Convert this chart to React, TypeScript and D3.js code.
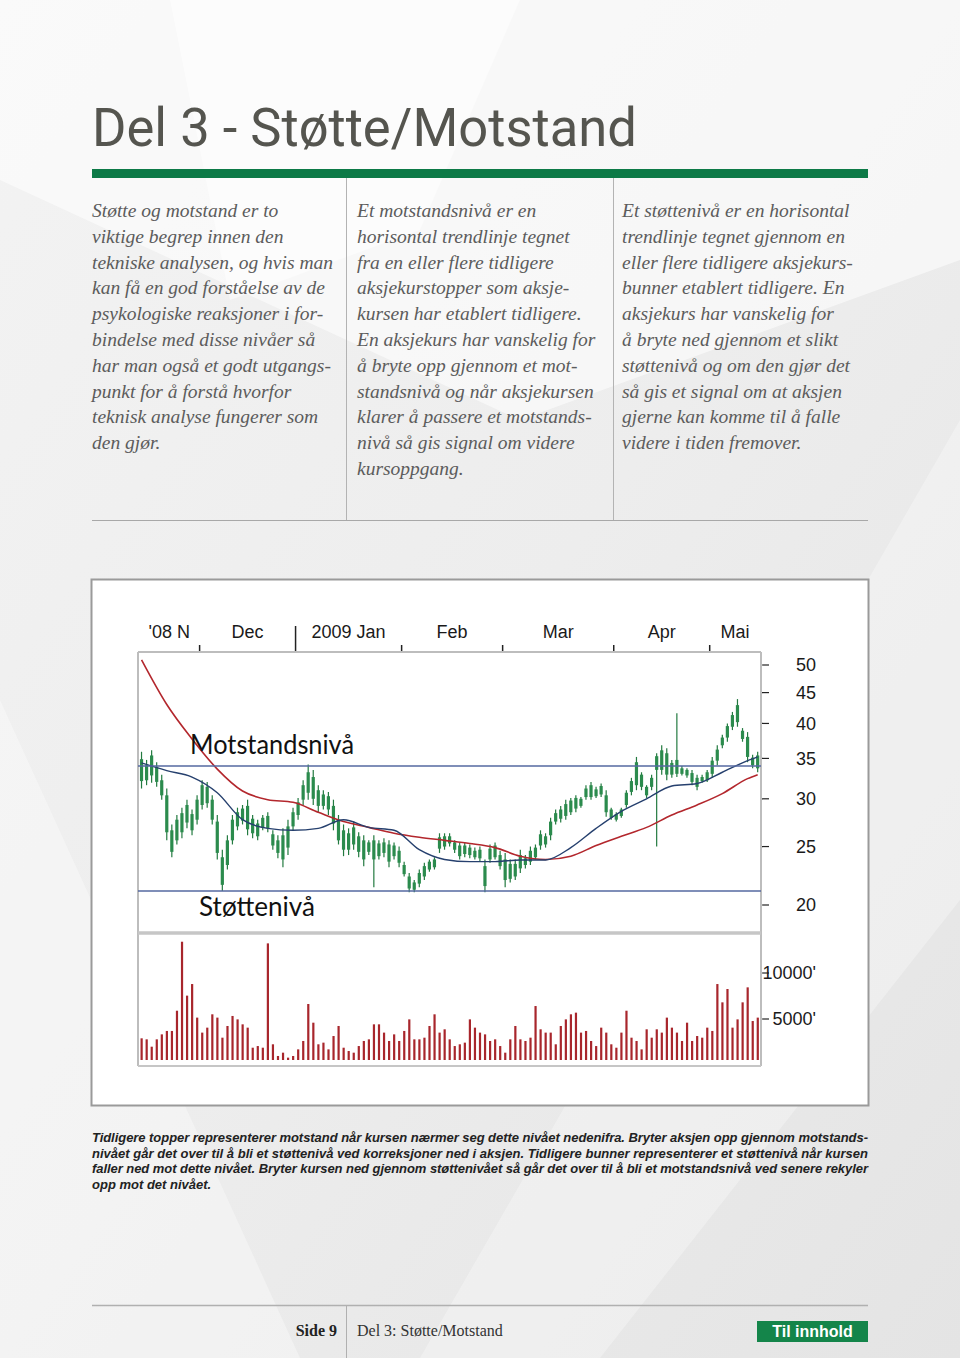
import React from 'react';
import * as d3 from 'd3';

// ---------- DATA ----------
const monthLabels = ["'08 N", 'Dec', '2009 Jan', 'Feb', 'Mar', 'Apr', 'Mai'];
const monthStart = [0, 12, 31, 52, 72, 94, 113]; // bar index of first trading day
const barCount = 123;
const priceTicks = [20, 25, 30, 35, 40, 45, 50];
const volumeTicks = [5000, 10000];
const volumeTickLabels = ["5000'", "10000'"];

const high = [
  35.9, 34.8, 36.1, 34.5, 32.9, 31.2, 27.2, 28.2, 29.0, 29.9,
  28.8, 30.4, 32.2, 32.0, 30.4, 28.2, 24.7, 26.1, 28.2, 29.0,
  29.3, 29.9, 28.2, 27.7, 28.2, 28.5, 26.6, 26.1, 26.8, 27.7,
  29.0, 30.1, 32.2, 34.2, 33.5, 31.6, 31.0, 30.8, 29.9, 28.2,
  27.2, 26.8, 27.5, 26.4, 26.1, 25.6, 26.1, 25.6, 25.8, 25.6,
  25.4, 25.0, 23.6, 22.6, 22.0, 22.9, 23.5, 23.8, 24.0, 26.3,
  26.3, 26.3, 25.6, 25.4, 25.4, 25.2, 24.9, 25.0, 23.8, 25.2,
  25.4, 24.6, 24.4, 23.8, 23.8, 24.7, 24.2, 25.0, 25.2, 26.6,
  26.3, 27.9, 28.8, 29.2, 29.9, 30.1, 30.4, 30.2, 31.6, 32.0,
  31.4, 31.8, 31.0, 29.0, 28.5, 29.0, 31.0, 32.5, 35.2, 33.2,
  31.6, 32.9, 35.7, 36.8, 36.4, 34.8, 41.6, 34.0, 33.7, 33.5,
  32.9, 32.9, 33.5, 35.2, 36.8, 38.3, 40.0, 41.8, 43.9, 39.3,
  38.7, 35.5, 35.9,
];
const low = [
  31.2, 31.6, 31.9, 31.4, 29.9, 25.6, 24.0, 25.2, 25.8, 26.8,
  26.1, 27.2, 28.8, 29.0, 27.2, 23.8, 21.1, 22.9, 25.2, 26.6,
  27.2, 26.1, 25.8, 25.6, 26.6, 26.4, 24.7, 23.9, 23.1, 24.2,
  26.6, 27.7, 29.3, 29.9, 29.3, 28.5, 28.8, 28.2, 26.6, 25.2,
  24.1, 24.2, 24.7, 24.0, 23.2, 24.2, 21.4, 23.8, 24.0, 23.1,
  23.8, 23.1, 22.3, 21.0, 21.0, 21.4, 22.0, 22.7, 22.9, 24.4,
  24.7, 25.0, 24.4, 23.8, 24.0, 23.9, 23.8, 23.6, 21.0, 23.5,
  23.8, 22.9, 21.4, 21.8, 22.0, 22.6, 23.0, 23.3, 23.8, 24.7,
  24.9, 25.6, 27.2, 27.4, 27.7, 28.2, 28.5, 29.0, 29.9, 29.9,
  30.1, 30.2, 28.0, 27.7, 27.5, 27.9, 29.0, 30.4, 31.0, 31.0,
  30.1, 31.0, 25.0, 32.9, 32.2, 32.5, 32.6, 32.8, 32.5, 31.6,
  31.0, 31.9, 32.0, 32.5, 34.1, 36.4, 37.3, 39.0, 39.5, 37.3,
  34.5, 33.7, 33.2,
];
const open = [
  32.1, 34.1, 32.8, 33.9, 32.2, 30.4, 26.6, 25.6, 26.4, 27.4,
  28.3, 27.7, 29.3, 31.4, 29.9, 27.5, 24.0, 23.3, 25.6, 27.0,
  28.9, 26.7, 27.8, 26.0, 26.9, 28.1, 26.2, 25.6, 23.8, 24.9,
  27.0, 28.2, 29.9, 30.7, 32.6, 31.0, 29.2, 30.3, 29.2, 27.7,
  24.7, 26.3, 25.2, 26.0, 23.8, 24.5, 25.6, 24.1, 25.4, 25.2,
  24.1, 24.6, 23.3, 22.3, 21.2, 21.7, 22.3, 22.9, 23.1, 24.8,
  26.0, 25.3, 25.4, 25.1, 24.3, 24.9, 24.0, 24.7, 23.2, 23.8,
  24.0, 24.2, 23.8, 22.1, 22.3, 23.0, 23.9, 23.6, 24.0, 25.1,
  26.0, 26.1, 27.5, 28.8, 28.1, 28.5, 30.1, 29.2, 30.2, 31.6,
  30.3, 31.5, 30.4, 27.9, 28.3, 28.1, 29.3, 30.8, 31.6, 32.9,
  31.4, 31.4, 33.5, 33.5, 35.7, 32.9, 33.0, 33.7, 32.8, 33.1,
  32.5, 32.1, 32.2, 33.0, 34.7, 36.8, 37.9, 39.5, 40.2, 38.9,
  38.0, 35.1, 33.7,
];
const close = [
  34.9, 32.2, 35.4, 32.0, 30.4, 26.4, 24.5, 27.7, 28.4, 29.3,
  26.6, 29.9, 31.6, 29.5, 27.7, 24.4, 21.6, 25.6, 27.7, 28.5,
  27.6, 29.2, 26.3, 27.3, 27.9, 26.8, 25.1, 24.4, 26.1, 27.0,
  28.5, 29.6, 31.6, 33.2, 30.0, 29.2, 30.5, 28.8, 27.3, 25.6,
  26.6, 24.7, 26.9, 24.5, 25.6, 25.4, 23.8, 25.3, 24.4, 23.6,
  25.1, 23.5, 22.5, 21.3, 21.8, 22.6, 23.2, 23.6, 23.8, 25.9,
  25.0, 26.0, 24.7, 24.1, 25.1, 24.2, 24.6, 23.9, 21.5, 24.8,
  25.1, 23.2, 22.0, 23.4, 23.4, 24.2, 23.3, 24.6, 24.9, 26.2,
  25.2, 27.5, 28.4, 27.8, 29.4, 29.8, 28.9, 30.0, 31.2, 30.2,
  31.1, 30.5, 28.5, 28.8, 27.7, 28.8, 30.7, 32.1, 34.5, 31.4,
  30.4, 32.5, 35.3, 36.1, 32.9, 34.4, 34.8, 33.0, 33.5, 32.0,
  31.4, 32.6, 33.2, 34.7, 36.2, 37.9, 39.6, 41.3, 42.9, 37.7,
  35.2, 34.1, 35.4,
];
const volume = [
  2900, 2790, 1990, 2790, 3330, 3700, 3700, 5900, 13400, 7540,
  8800, 5150, 3520, 4060, 5510, 5150, 2970, 4240, 5330, 4960,
  4420, 4060, 1880, 2060, 1880, 13220, 2250, 980, 1340, 800,
  980, 1700, 2610, 6630, 4600, 2250, 2430, 1700, 3150, 4240,
  1880, 1520, 1340, 2060, 2610, 2790, 4420, 4420, 3520, 2610,
  3330, 2610, 3700, 4960, 2790, 2790, 2970, 4240, 5510, 3520,
  3880, 2790, 2060, 2250, 2430, 4960, 4060, 3520, 3330, 2610,
  2790, 2060, 1340, 2790, 4240, 2790, 2610, 2970, 6410, 3880,
  3520, 3520, 2250, 4240, 4960, 5510, 5690, 3520, 3700, 2610,
  2060, 4060, 3520, 2250, 1880, 3520, 5900, 2970, 2610, 1700,
  3880, 2970, 3880, 3520, 5150, 4060, 3520, 2610, 4600, 2610,
  3150, 2970, 4060, 3700, 8800, 6810, 8260, 4060, 4960, 6810,
  8440, 4780, 5150,
];
const maIndex = [0, 5, 10, 15, 20, 25, 30, 35, 40, 45, 50, 55, 60, 65, 70, 75, 80, 85, 90, 95, 100, 105, 110, 115, 120, 122];
const maShort = [34.4, 33.4, 32.6, 30.7, 27.7, 26.8, 26.6, 26.8, 27.7, 26.9, 26.6, 24.7, 23.8, 23.6, 23.6, 23.75, 23.75, 24.9, 26.8, 28.6, 30.0, 31.5, 31.8, 33.2, 34.7, 35.2];
const maLong = [51.0, 43.0, 37.7, 33.6, 30.9, 29.9, 29.6, 28.5, 27.5, 26.9, 26.3, 25.9, 25.6, 25.3, 24.9, 24.1, 23.8, 24.1, 25.1, 26.0, 26.9, 28.2, 29.3, 30.6, 32.4, 32.9];
const resistanceLevel = 34.0;
const supportLevel = 21.1;

const col1 = [
  'Støtte og motstand er to',
  'viktige begrep innen den',
  'tekniske analysen, og hvis man',
  'kan få en god forståelse av de',
  'psykologiske reaksjoner i for-',
  'bindelse med disse nivåer så',
  'har man også et godt utgangs-',
  'punkt for å forstå hvorfor',
  'teknisk analyse fungerer som',
  'den gjør.',
];
const col2 = [
  'Et motstandsnivå er en',
  'horisontal trendlinje tegnet',
  'fra en eller flere tidligere',
  'aksjekurstopper som aksje-',
  'kursen har etablert tidligere.',
  'En aksjekurs har vanskelig for',
  'å bryte opp gjennom et mot-',
  'standsnivå og når aksjekursen',
  'klarer å passere et motstands-',
  'nivå så gis signal om videre',
  'kursoppgang.',
];
const col3 = [
  'Et støttenivå er en horisontal',
  'trendlinje tegnet gjennom en',
  'eller flere tidligere aksjekurs-',
  'bunner etablert tidligere. En',
  'aksjekurs har vanskelig for',
  'å bryte ned gjennom et slikt',
  'støttenivå og om den gjør det',
  'så gis et signal om at aksjen',
  'gjerne kan komme til å falle',
  'videre i tiden fremover.',
];
const caption = [
  'Tidligere topper representerer motstand når kursen nærmer seg dette nivået nedenifra. Bryter aksjen opp gjennom motstands-',
  'nivået går det over til å bli et støttenivå ved korreksjoner ned i aksjen. Tidligere bunner representerer et støttenivå når kursen',
  'faller ned mot dette nivået. Bryter kursen ned gjennom støttenivået så går det over til å bli et motstandsnivå ved senere rekyler',
  'opp mot det nivået.',
];

// ---------- LAYOUT ----------
const PL = 138, PR = 761, PT = 652, PB = 932, VB = 1066;

export default function App() {
  const x = d3.scaleLinear().domain([0, barCount]).range([139, 760.2]);
  const yP = d3.scaleLog().domain([20, 50]).range([905, 665]);
  const yV = d3.scaleLinear().domain([0, 10000]).range([1065, 973]);

  const maPts = (vals: number[]) => maIndex.map((i, k) => ({ i, v: vals[k] }));
  const line = d3
    .line<{ i: number; v: number }>()
    .x((d) => x(d.i + 0.5))
    .y((d) => yP(d.v))
    .curve(d3.curveMonotoneX);

  const bars = d3.range(barCount);
  const monthEnds = [...monthStart.slice(1), barCount];

  const serif = "'Liberation Serif', 'Times New Roman', serif";
  const sans = "'Liberation Sans', Arial, sans-serif";

  return (
    <svg width={960} height={1358} style={{ position: 'absolute', left: 0, top: 0 }}>
      <defs>
        <linearGradient id="bg" x1="0" y1="0" x2="1" y2="1">
          <stop offset="0" stopColor="#f3f3f3" />
          <stop offset="0.5" stopColor="#ededed" />
          <stop offset="1" stopColor="#e4e4e4" />
        </linearGradient>
        <clipPath id="pclip">
          <rect x={PL} y={PT} width={PR - PL} height={PB - PT - 1} />
        </clipPath>
      </defs>
      <rect x={0} y={0} width={960} height={1358} fill="url(#bg)" />
      <polygon points="0,0 960,0 960,260 520,420 0,180" fill="#ffffff" opacity={0.55} />
      <polygon points="170,0 520,0 420,230 230,300" fill="#ffffff" opacity={0.5} />
      <polygon points="960,420 960,900 600,1358 420,1358" fill="#ffffff" opacity={0.3} />
      <polygon points="0,700 300,1358 0,1358" fill="#ffffff" opacity={0.35} />

      {/* Title */}
      <text x={92} y={146} fontFamily="Roboto, sans-serif" fontSize={53} fill="#55554f" textLength={545} lengthAdjust="spacingAndGlyphs">
        Del 3 - Støtte/Motstand
      </text>
      <rect x={92} y={169} width={776} height={9} fill="#0d7a47" />

      {/* Column dividers */}
      <line x1={346.5} y1={178} x2={346.5} y2={520} stroke="#b3b3b3" strokeWidth={1} />
      <line x1={613.5} y1={178} x2={613.5} y2={520} stroke="#b3b3b3" strokeWidth={1} />
      <line x1={92} y1={520.5} x2={868} y2={520.5} stroke="#a8a8a8" strokeWidth={1} />

      {[
        { lines: col1, x0: 92 },
        { lines: col2, x0: 357 },
        { lines: col3, x0: 622 },
      ].map((c, ci) => (
        <text key={ci} fontFamily={serif} fontStyle="italic" fontSize={19.5} fill="#5c5c5c">
          {c.lines.map((l, k) => (
            <tspan key={k} x={c.x0} y={217 + k * 25.8}>
              {l}
            </tspan>
          ))}
        </text>
      ))}

      {/* Chart box */}
      <rect x={91.5} y={579.5} width={777} height={526} fill="#ffffff" stroke="#9a9a9a" strokeWidth={2} />

      {/* Month axis */}
      {monthLabels.map((m, k) => (
        <text key={m} x={x((monthStart[k] + monthEnds[k]) / 2)} y={638} textAnchor="middle" fontFamily={sans} fontSize={18} fill="#1a1a1a">
          {m}
        </text>
      ))}
      {monthStart.slice(1).map((s, k) => (
        <line key={s} x1={x(s)} x2={x(s)} y1={k === 1 ? 626 : 645} y2={PT} stroke="#222" strokeWidth={k === 1 ? 1.5 : 1.5} />
      ))}

      {/* Panels frames */}
      <line x1={PL} x2={PR} y1={PT} y2={PT} stroke="#bdbdbd" strokeWidth={2} />
      <line x1={PL} x2={PL} y1={PT} y2={VB} stroke="#bdbdbd" strokeWidth={2} />
      <line x1={PR} x2={PR} y1={PT} y2={VB} stroke="#bdbdbd" strokeWidth={2} />
      <line x1={PL} x2={PR} y1={PB + 1} y2={PB + 1} stroke="#c6c6c6" strokeWidth={3.5} />
      <line x1={PL} x2={PR} y1={VB} y2={VB} stroke="#c6c6c6" strokeWidth={2} />

      {/* Price axis */}
      {priceTicks.map((t) => (
        <g key={t}>
          <line x1={PR + 1} x2={PR + 8} y1={yP(t)} y2={yP(t)} stroke="#222" strokeWidth={1.2} />
          <text x={816} y={yP(t)} dy="0.35em" textAnchor="end" fontFamily={sans} fontSize={18} fill="#1a1a1a">
            {t}
          </text>
        </g>
      ))}
      {/* Volume axis */}
      {volumeTicks.map((t, k) => (
        <g key={t}>
          <line x1={PR + 1} x2={PR + 8} y1={yV(t)} y2={yV(t)} stroke="#222" strokeWidth={1.2} />
          <text x={816} y={yV(t)} dy="0.35em" textAnchor="end" fontFamily={sans} fontSize={18} fill="#1a1a1a">
            {volumeTickLabels[k]}
          </text>
        </g>
      ))}

      {/* Price bars */}
      <g clipPath="url(#pclip)">
        {bars.map((i) => {
          const cx = x(i + 0.5);
          const top = yP(Math.max(open[i], close[i]));
          const bot = yP(Math.min(open[i], close[i]));
          return (
            <g key={i}>
              <line x1={cx} x2={cx} y1={yP(high[i])} y2={yP(low[i])} stroke="#237a40" strokeWidth={1.2} />
              <rect x={cx - 1.6} y={top} width={3.2} height={Math.max(1.5, bot - top)} fill="#2b8b4d" />
            </g>
          );
        })}
        <path d={line(maPts(maLong)) || ''} fill="none" stroke="#b3272d" strokeWidth={1.6} />
        <path d={line(maPts(maShort)) || ''} fill="none" stroke="#26406e" strokeWidth={1.4} />
        <line x1={PL} x2={PR} y1={yP(resistanceLevel)} y2={yP(resistanceLevel)} stroke="#5468a0" strokeWidth={1.6} />
        <line x1={PL} x2={PR} y1={yP(supportLevel)} y2={yP(supportLevel)} stroke="#5468a0" strokeWidth={1.6} />
      </g>

      <text x={190} y={754} fontFamily="Lato, 'Open Sans', sans-serif" fontSize={27} fill="#111" textLength={164} lengthAdjust="spacingAndGlyphs">
        Motstandsnivå
      </text>
      <text x={199} y={916} fontFamily="Lato, 'Open Sans', sans-serif" fontSize={27} fill="#111" textLength={116} lengthAdjust="spacingAndGlyphs">
        Støttenivå
      </text>

      {/* Volume bars */}
      {bars.map((i) => (
        <rect key={i} x={x(i + 0.5) - 1} y={yV(volume[i])} width={2.2} height={Math.max(0, 1060 - yV(volume[i]))} fill="#a8262c" />
      ))}

      {/* Caption */}
      <text fontFamily={sans} fontStyle="italic" fontWeight="bold" fontSize={13} fill="#222">
        {caption.map((l, k) => (
          <tspan key={k} x={92} y={1142 + k * 15.6} {...(k < 3 ? { textLength: 776, lengthAdjust: 'spacing' } : {})}>
            {l}
          </tspan>
        ))}
      </text>

      {/* Footer */}
      <line x1={92} x2={868} y1={1305.5} y2={1305.5} stroke="#b0b0b0" strokeWidth={1.5} />
      <line x1={346.5} x2={346.5} y1={1305} y2={1358} stroke="#b0b0b0" strokeWidth={1} />
      <text x={337} y={1336} textAnchor="end" fontFamily={serif} fontWeight="bold" fontSize={16} fill="#222">
        Side 9
      </text>
      <text x={357} y={1336} fontFamily={serif} fontSize={16} fill="#333">
        Del 3: Støtte/Motstand
      </text>
      <rect x={757} y={1321} width={111} height={21} fill="#14854a" />
      <text x={812.5} y={1337} textAnchor="middle" fontFamily={sans} fontWeight="bold" fontSize={16} fill="#ffffff">
        Til innhold
      </text>
    </svg>
  );
}
